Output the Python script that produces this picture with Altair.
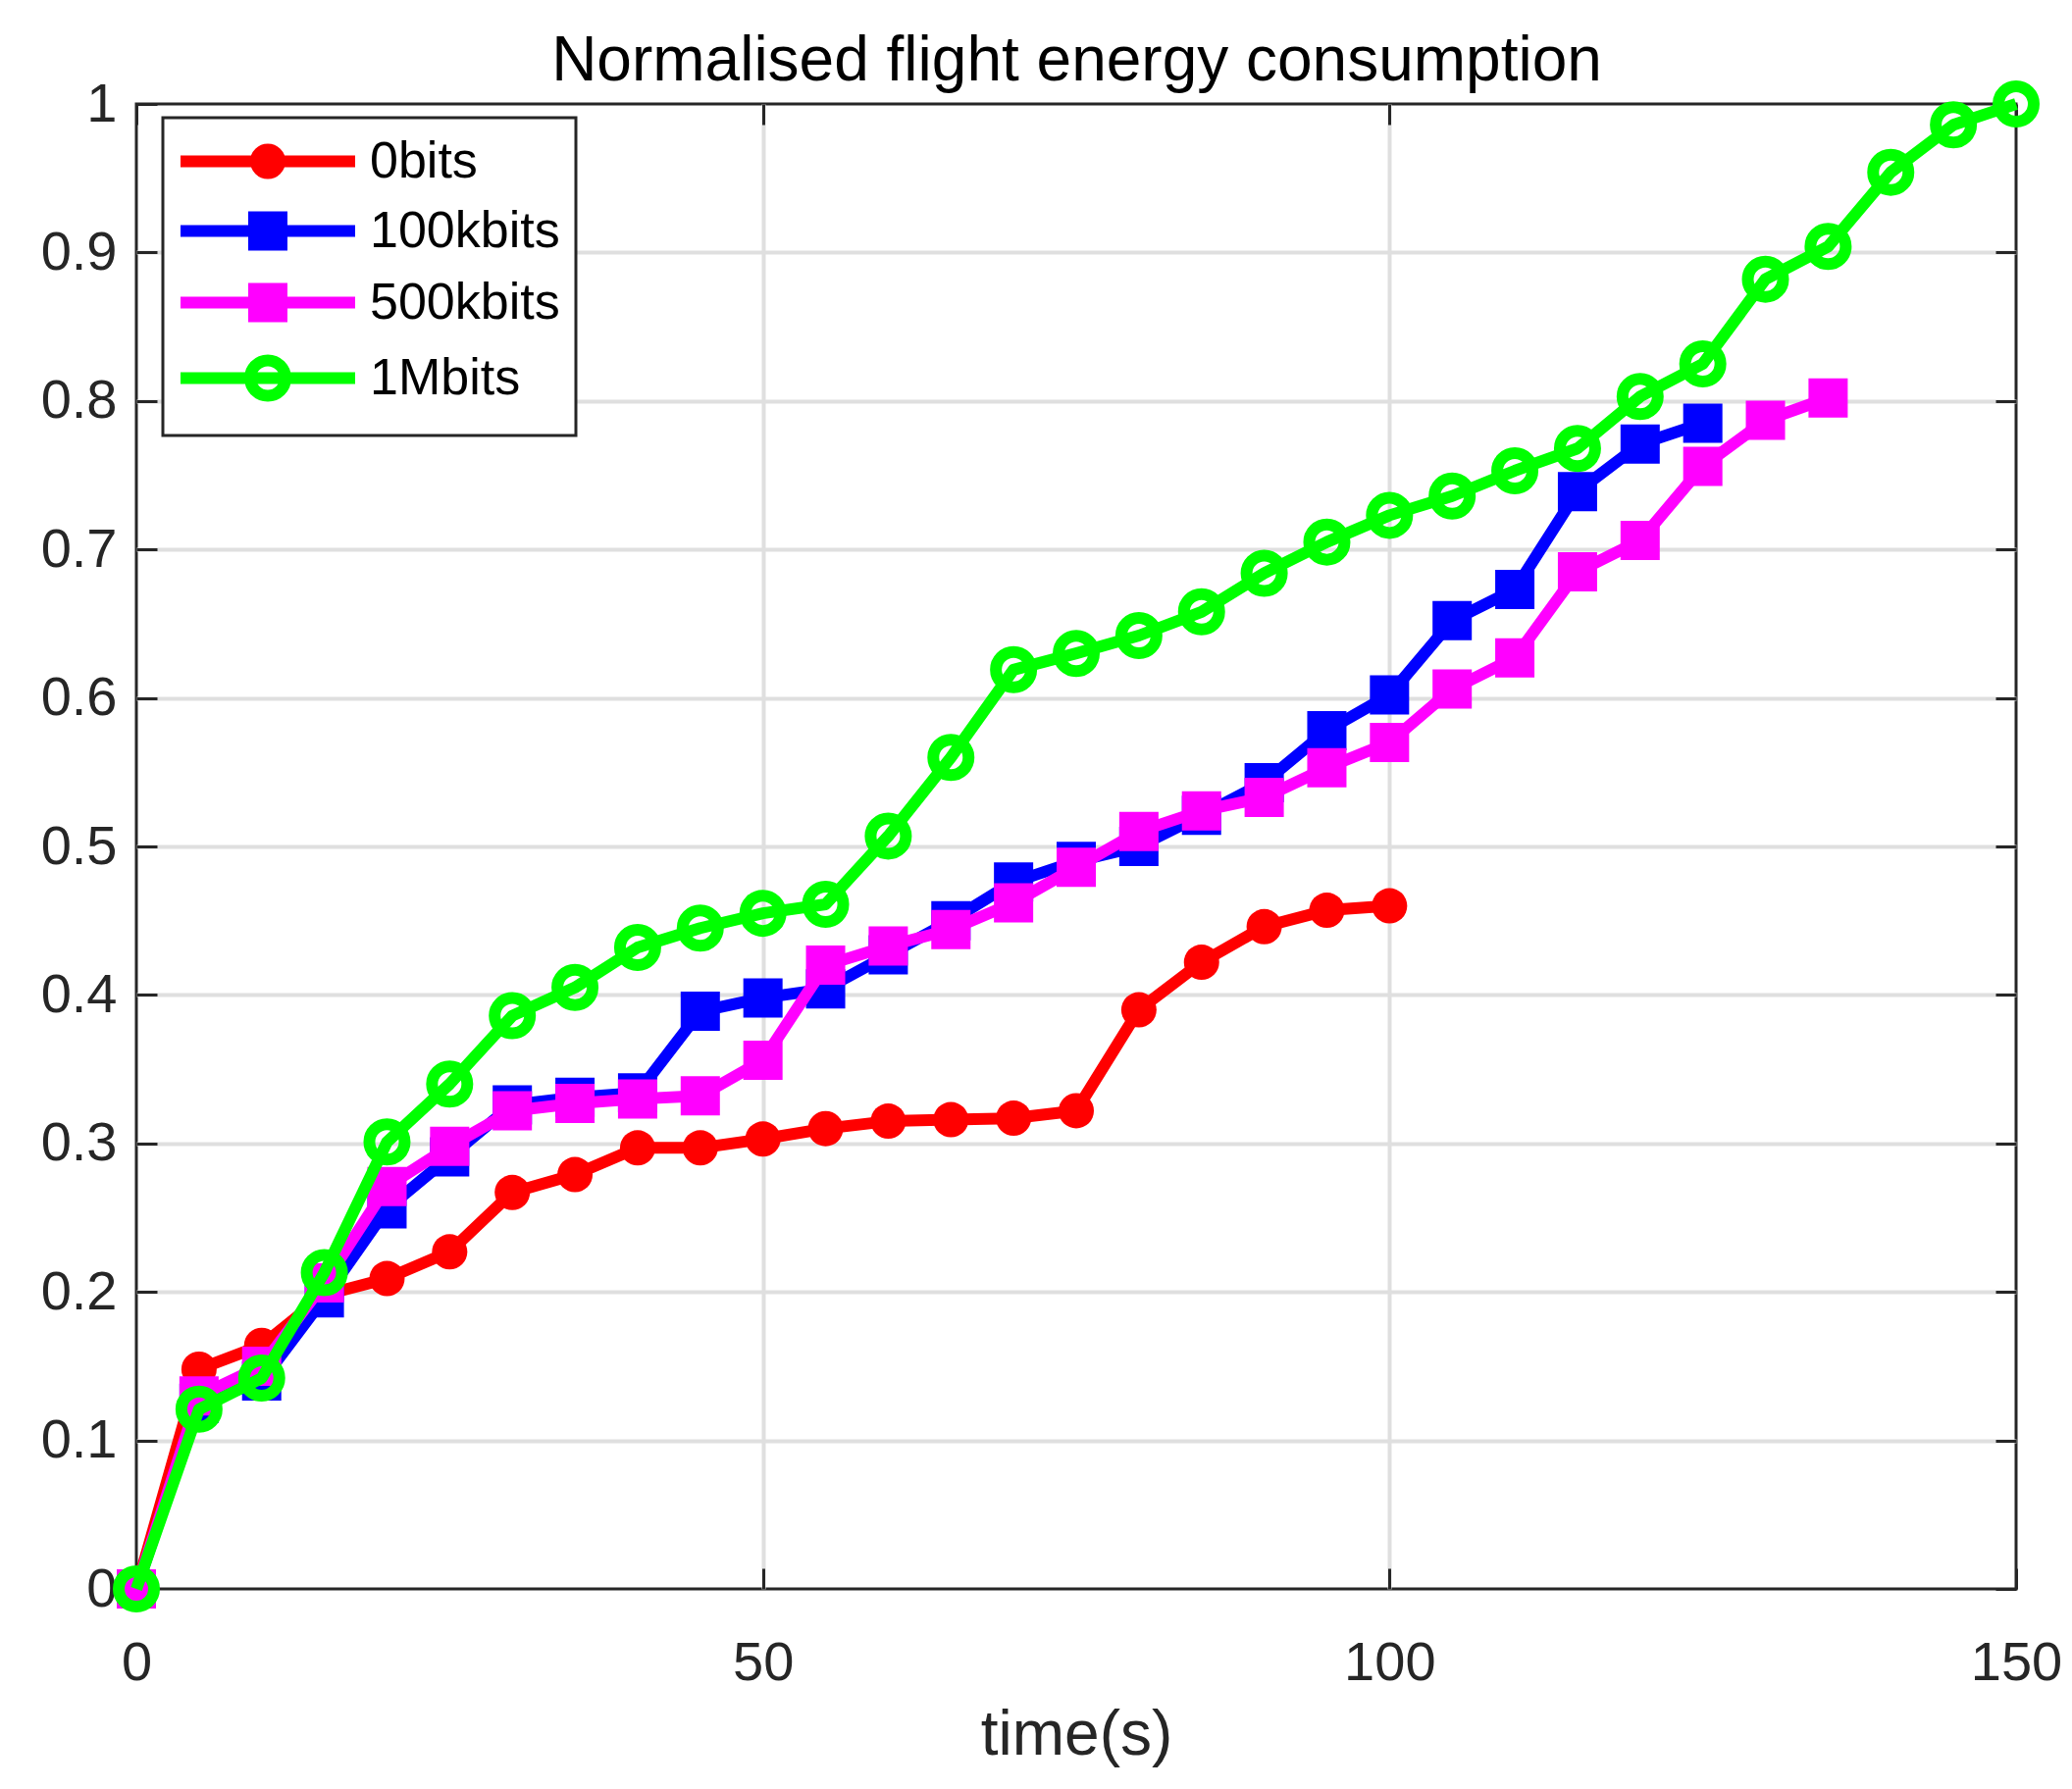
import sys
import altair as alt
import pandas as pd

# series and colours (matlab style)
series = ["0bits", "100kbits", "500kbits", "1Mbits"]
colors = ["#ff0000", "#0000ff", "#ff00ff", "#00ff00"]
fills = ["#ff0000", "#0000ff", "#ff00ff", "transparent"]

t_0bits = [0, 5, 10, 15, 20, 25, 30, 35, 40, 45, 50, 55, 60, 65, 70, 75, 80, 85, 90, 95, 100]
e_0bits = [0, 0.148, 0.164, 0.198, 0.209, 0.227, 0.267, 0.279, 0.297, 0.297, 0.303,
           0.310, 0.315, 0.316, 0.317, 0.322, 0.390, 0.422, 0.446, 0.457, 0.460]

t_100k = [0, 5, 10, 15, 20, 25, 30, 35, 40, 45, 50, 55, 60, 65, 70, 75, 80, 85, 90, 95,
          100, 105, 110, 115, 120, 125]
e_100k = [0, 0.125, 0.140, 0.196, 0.256, 0.291, 0.326, 0.331, 0.334, 0.389, 0.398,
          0.404, 0.427, 0.450, 0.476, 0.490, 0.500, 0.521, 0.543, 0.578, 0.602,
          0.652, 0.673, 0.739, 0.771, 0.785]

t_500k = [0, 5, 10, 15, 20, 25, 30, 35, 40, 45, 50, 55, 60, 65, 70, 75, 80, 85, 90, 95,
          100, 105, 110, 115, 120, 125, 130, 135]
e_500k = [0, 0.130, 0.150, 0.206, 0.271, 0.298, 0.322, 0.327, 0.330, 0.332, 0.356,
          0.420, 0.433, 0.444, 0.462, 0.486, 0.510, 0.524, 0.533, 0.553, 0.570,
          0.606, 0.627, 0.685, 0.706, 0.756, 0.787, 0.802]

t_1M = [0, 5, 10, 15, 20, 25, 30, 35, 40, 45, 50, 55, 60, 65, 70, 75, 80, 85, 90, 95,
        100, 105, 110, 115, 120, 125, 130, 135, 140, 145, 150]
e_1M = [0, 0.121, 0.142, 0.213, 0.301, 0.340, 0.386, 0.405, 0.432, 0.445, 0.455,
        0.461, 0.507, 0.560, 0.619, 0.630, 0.642, 0.658, 0.684, 0.705, 0.723,
        0.736, 0.753, 0.768, 0.803, 0.825, 0.882, 0.904, 0.954, 0.986, 1.0]

x_ticks = [0, 50, 100, 150]
y_ticks = [0, 0.1, 0.2, 0.3, 0.4, 0.5, 0.6, 0.7, 0.8, 0.9, 1]
x_grid = [50, 100]
y_grid = [0.1, 0.2, 0.3, 0.4, 0.5, 0.6, 0.7, 0.8, 0.9]

frames = []
for name, t, e in zip(series, [t_0bits, t_100k, t_500k, t_1M], [e_0bits, e_100k, e_500k, e_1M]):
    frames.append(pd.DataFrame({"t": t, "e": e, "series": name}))
df = pd.concat(frames, ignore_index=True)

W, H = 1916, 1514
FONT = "Liberation Sans"
DARK = "#262626"
LW = 12


# legend symbols: line + marker drawn as one path, 1 unit = 22.25 px
def circle_path(r):
    return f"M-4,0L4,0M-{r},0A{r},{r} 0 1,0 {r},0A{r},{r} 0 1,0 -{r},0Z"


def square_path(h):
    return f"M-4,0L4,0M-{h},-{h}L{h},-{h}L{h},{h}L-{h},{h}Z"


legend_shapes = [circle_path(0.539), square_path(0.629), square_path(0.629), circle_path(0.809)]

x_scale = alt.Scale(domain=[0, 150], nice=False, zero=False)
y_scale = alt.Scale(domain=[0, 1], nice=False, zero=False)
stroke_scale = alt.Scale(domain=series, range=colors)
fill_scale = alt.Scale(domain=series, range=fills)
shape_scale = alt.Scale(domain=series, range=legend_shapes)

legend = alt.Legend(
    title=None, orient="none", legendX=27, legendY=14, direction="vertical",
    padding=16, rowPadding=-4, symbolOffset=62.5, labelOffset=75.5,
    fillColor="white", strokeColor=DARK, symbolFillColor="white",
    labelFont=FONT, labelFontSize=52, labelColor="black", labelLimit=0,
    symbolSize=1980, symbolStrokeWidth=LW, symbolOpacity=1,
)


def build(legend_border):
    base = alt.Chart(df)
    no_x = alt.X("t:Q", scale=x_scale, axis=None)
    no_y = alt.Y("e:Q", scale=y_scale, axis=None)

    # empty layer that only carries the legend
    key = base.transform_filter("datum.t < 0").mark_point(strokeWidth=LW).encode(
        x=no_x, y=no_y,
        stroke=alt.Stroke("series:N", scale=stroke_scale, legend=legend),
        fill=alt.Fill("series:N", scale=fill_scale, legend=legend),
        shape=alt.Shape("series:N", scale=shape_scale, legend=legend),
    )

    # gridlines (interior only so the box stays dark)
    grid = base.mark_point(opacity=0).encode(
        x=alt.X("t:Q", scale=x_scale, axis=alt.Axis(
            orient="bottom", values=x_grid, grid=True, gridColor="#dfdfdf", gridWidth=4,
            labels=False, ticks=False, domain=False, title=None)),
        y=alt.Y("e:Q", scale=y_scale, axis=alt.Axis(
            orient="left", values=y_grid, grid=True, gridColor="#dfdfdf", gridWidth=4,
            labels=False, ticks=False, domain=False, title=None)),
    )

    # tick labels and x title
    labels = base.mark_point(opacity=0).encode(
        x=alt.X("t:Q", scale=x_scale, axis=alt.Axis(
            orient="bottom", values=x_ticks, format="d", grid=False, ticks=False, tickSize=0,
            domain=False, labelFont=FONT, labelFontSize=56, labelColor=DARK, labelPadding=48,
            labelFlush=False, labelOverlap=False,
            title="time(s)", titleFont=FONT, titleFontSize=64, titleFontWeight="normal",
            titleColor=DARK, titleY=168, titleBaseline="alphabetic")),
        y=alt.Y("e:Q", scale=y_scale, axis=alt.Axis(
            orient="left", values=y_ticks, format="~g", grid=False, ticks=False, tickSize=0,
            domain=False, labelFont=FONT, labelFontSize=56, labelColor=DARK, labelPadding=20,
            labelFlush=False, labelOverlap=False, title=None)),
    )

    # chart title carried by an empty top axis
    heading = base.mark_point(opacity=0).encode(
        x=alt.X("t:Q", scale=x_scale, axis=alt.Axis(
            orient="top", labels=False, ticks=False, domain=False, grid=False,
            title="Normalised flight energy consumption", titleFont=FONT, titleFontSize=64,
            titleFontWeight="normal", titleColor="black", titleY=-25,
            titleBaseline="alphabetic")),
        y=no_y,
    )

    def inward_ticks(x_orient, y_orient):
        # axes pushed across the plot so their ticks point inwards
        return base.mark_point(opacity=0).encode(
            x=alt.X("t:Q", scale=x_scale, axis=alt.Axis(
                orient=x_orient, offset=-H, values=x_ticks, labels=False, grid=False,
                domain=False, tickSize=21, tickWidth=3, tickColor=DARK, title=None)),
            y=alt.Y("e:Q", scale=y_scale, axis=alt.Axis(
                orient=y_orient, offset=-W, values=y_ticks, labels=False, grid=False,
                domain=False, tickSize=21, tickWidth=3, tickColor=DARK, title=None)),
        )

    layers = [key, grid, labels, heading,
              inward_ticks("top", "right"), inward_ticks("bottom", "left")]

    stroke_enc = alt.Stroke("series:N", scale=stroke_scale, legend=None)
    fill_enc = alt.Fill("series:N", scale=fill_scale, legend=None)
    for name in series:
        s = alt.Chart(df[df["series"] == name]).encode(x=no_x, y=no_y)
        layers.append(s.mark_line(strokeWidth=LW, strokeJoin="round").encode(stroke=stroke_enc))
        if name == "1Mbits":
            pts = s.mark_point(shape="circle", filled=False, size=1296, strokeWidth=LW,
                               opacity=1).encode(stroke=stroke_enc)
        elif name == "0bits":
            pts = s.mark_point(shape="circle", filled=True, size=1296, strokeWidth=0,
                               opacity=1).encode(fill=fill_enc)
        else:
            pts = s.mark_point(shape="square", filled=True, size=1600, strokeWidth=0,
                               opacity=1).encode(fill=fill_enc)
        layers.append(pts)

    ch = alt.layer(*layers).resolve_axis(
        x="independent", y="independent"
    ).properties(
        width=W, height=H,
        autosize=alt.AutoSizeParams(type="none"),
        padding={"left": 131, "top": 98, "right": 48, "bottom": 194},
    ).configure_view(stroke=DARK, strokeWidth=3)
    if legend_border:
        ch = ch.configure_legend(strokeWidth=3)
    ch.to_dict()
    return ch


try:
    chart = build(True)
except Exception as err:
    print(str(err)[:1500], file=sys.stderr)
    chart = build(False)

chart.save("out.html", embed_options={"renderer": "svg", "actions": False})
